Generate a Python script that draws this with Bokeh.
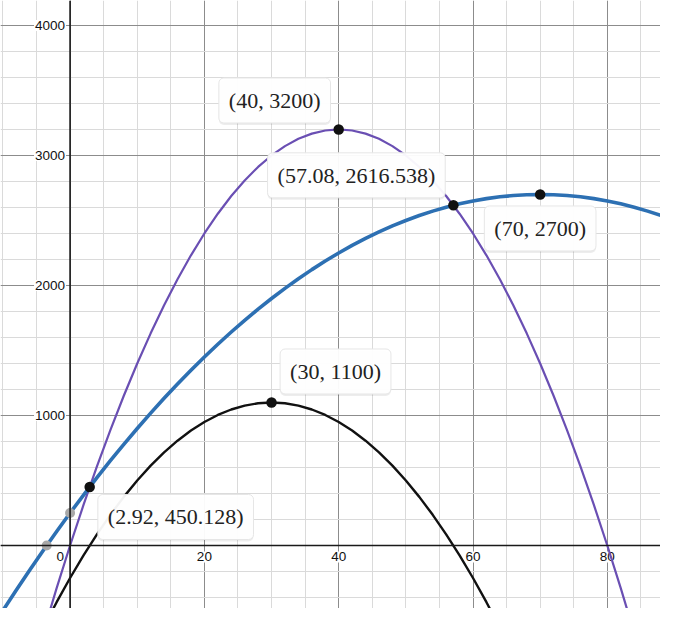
from bokeh.plotting import figure
from bokeh.models import Range1d, Grid, SingleIntervalTicker, Span, ColumnDataSource
from bokeh.core.properties import value
from bokeh.embed import file_html
from bokeh.resources import INLINE

# ---- data ----
# purple curve
purple_x = [-4, -2, 0, 2, 4, 6, 8, 10, 12, 14, 16, 18, 20, 22, 24, 26, 28, 30, 32, 34, 36, 38, 40,
            42, 44, 46, 48, 50, 52, 54, 56, 58, 60, 62, 64, 66, 68, 70, 72, 74, 76, 78, 80, 82, 84]
purple_y = [-672, -328, 0, 312, 608, 888, 1152, 1400, 1632, 1848, 2048, 2232, 2400, 2552, 2688,
            2808, 2912, 3000, 3072, 3128, 3168, 3192, 3200, 3192, 3168, 3128, 3072, 3000, 2912,
            2808, 2688, 2552, 2400, 2232, 2048, 1848, 1632, 1400, 1152, 888, 608, 312, 0, -328, -672]
# blue curve
blue_x = [-10, -8, -6, -4, -2, 0, 2, 4, 6, 8, 10, 12, 14, 16, 18, 20, 22, 24, 26, 28, 30, 32, 34,
          36, 38, 40, 42, 44, 46, 48, 50, 52, 54, 56, 58, 60, 62, 64, 66, 68, 70, 72, 74, 76, 78,
          80, 82, 84, 86, 88, 90]
blue_y = [-500, -342, -188, -38, 108, 250, 388, 522, 652, 778, 900, 1018, 1132, 1242, 1348, 1450,
          1548, 1642, 1732, 1818, 1900, 1978, 2052, 2122, 2188, 2250, 2308, 2362, 2412, 2458, 2500,
          2538, 2572, 2602, 2628, 2650, 2668, 2682, 2692, 2698, 2700, 2698, 2692, 2682, 2668, 2650,
          2628, 2602, 2572, 2538, 2500]
# black curve
black_x = [-4, -2, 0, 2, 4, 6, 8, 10, 12, 14, 16, 18, 20, 22, 24, 26, 28, 30, 32, 34, 36, 38, 40,
           42, 44, 46, 48, 50, 52, 54, 56, 58, 60, 62, 64]
black_y = [-634, -436, -250, -76, 86, 236, 374, 500, 614, 716, 806, 884, 950, 1004, 1046, 1076,
           1094, 1100, 1094, 1076, 1046, 1004, 950, 884, 806, 716, 614, 500, 374, 236, 86, -76,
           -250, -436, -634]

# labelled points
pt_x = [40, 57.08, 70, 30, 2.92]
pt_y = [3200, 2616.538, 2700, 1100, 450.128]
pt_text = ["(40, 3200)", "(57.08, 2616.538)", "(70, 2700)", "(30, 1100)", "(2.92, 450.128)"]
# unlabelled (gray) points
gray_x = [0, -3.48]
gray_y = [250, 0]

# ticks
x_ticks = [20, 40, 60, 80]
x_tick_labels = ["20", "40", "60", "80"]
zero_label = ["0"]
y_ticks = [1000, 2000, 3000, 4000]
y_tick_labels = ["1000", "2000", "3000", "4000"]

# ---- styles ----
label_dx = [-64, -97, 0, 64, 86]
label_dy = [-29, -30, 34, -31, 30]

p = figure(width=660, height=608, x_range=Range1d(-10.36, 87.92), y_range=Range1d(-484.6, 4192),
           output_backend="svg", toolbar_location=None, x_axis_location=None,
           y_axis_location=None, min_border=0)
p.center = []
p.outline_line_color = None
p.background_fill_color = "white"

gx = Grid(dimension=0, ticker=SingleIntervalTicker(interval=20, num_minor_ticks=4),
          grid_line_color="#8c8c8c", grid_line_width=1, minor_grid_line_color="#dadada")
gy = Grid(dimension=1, ticker=SingleIntervalTicker(interval=1000, num_minor_ticks=5),
          grid_line_color="#8c8c8c", grid_line_width=1, minor_grid_line_color="#dadada")
p.add_layout(gx)
p.add_layout(gy)

p.add_layout(Span(location=0, dimension="height", line_color="#1a1a1a", line_width=1.6))
p.add_layout(Span(location=0, dimension="width", line_color="#1a1a1a", line_width=1.6))

# tick labels
tick_font = value("Liberation Sans")
p.text(x=x_ticks, y=[0] * len(x_ticks), text=x_tick_labels, text_align="center",
       text_baseline="top", y_offset=6, text_font=tick_font, text_font_size="13.5px",
       text_color="#111111", background_fill_color="white", padding=1)
p.text(x=[0], y=[0], text=zero_label, text_align="right", text_baseline="top",
       x_offset=-5, y_offset=6, text_font=tick_font, text_font_size="13.5px",
       text_color="#111111", background_fill_color="white", padding=1)
p.text(x=[0] * len(y_ticks), y=y_ticks, text=y_tick_labels, text_align="right",
       text_baseline="middle", x_offset=-4, text_font=tick_font, text_font_size="13.5px",
       text_color="#111111", background_fill_color="white", padding=1)

# curves
p.line(black_x, black_y, line_color="#111111", line_width=2.4, line_join="round")
p.line(purple_x, purple_y, line_color="#6a4fb3", line_width=2.2, line_join="round")
p.line(blue_x, blue_y, line_color="#2d70b3", line_width=3.6, line_join="round")

# points
p.scatter(gray_x, gray_y, size=10, fill_color="#a8a8a8", line_color=None)
p.scatter(pt_x, pt_y, size=10.5, fill_color="#111111", line_color=None)

# point labels with a faint shadow
src = ColumnDataSource(dict(x=pt_x, y=pt_y, text=pt_text, dx=label_dx,
                            dy=[d + 2 for d in label_dy]))
src2 = ColumnDataSource(dict(x=pt_x, y=pt_y, text=pt_text, dx=label_dx, dy=label_dy))
lab_font = value("Liberation Serif")
p.text(x="x", y="y", text="text", x_offset="dx", y_offset="dy", source=src,
       text_align="center", text_baseline="middle", text_font=lab_font,
       text_font_size="22px", text_alpha=0, background_fill_color="#000000",
       background_fill_alpha=0.07, padding=10, border_radius=5)
p.text(x="x", y="y", text="text", x_offset="dx", y_offset="dy", source=src2,
       text_align="center", text_baseline="middle", text_font=lab_font,
       text_font_size="22px", text_color="#222222", background_fill_color="white",
       background_fill_alpha=0.95, border_line_color="#e6e6e6", border_line_width=1,
       padding=10, border_radius=5)

open("out.html", "w").write(file_html(p, INLINE))
